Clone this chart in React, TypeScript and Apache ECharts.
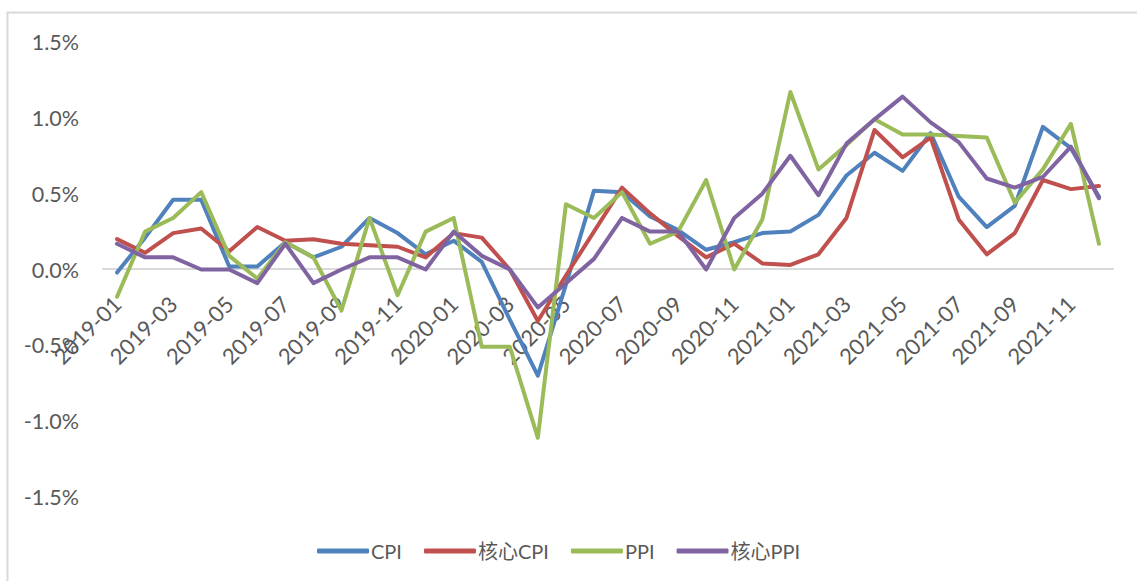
import React, { useEffect, useRef } from "react";
import * as echarts from "echarts";

const months: string[] = [
  "2019-01","2019-02","2019-03","2019-04","2019-05","2019-06","2019-07","2019-08","2019-09","2019-10","2019-11","2019-12",
  "2020-01","2020-02","2020-03","2020-04","2020-05","2020-06","2020-07","2020-08","2020-09","2020-10","2020-11","2020-12",
  "2021-01","2021-02","2021-03","2021-04","2021-05","2021-06","2021-07","2021-08","2021-09","2021-10","2021-11","2021-12",
];

const cpi: number[] = [
  -0.02, 0.21, 0.46, 0.46, 0.02, 0.02, 0.18, 0.08, 0.15, 0.34, 0.24, 0.10,
  0.19, 0.05, -0.33, -0.70, -0.10, 0.52, 0.51, 0.35, 0.26, 0.13, 0.18, 0.24,
  0.25, 0.36, 0.62, 0.77, 0.65, 0.90, 0.48, 0.28, 0.42, 0.94, 0.80, 0.48,
];

const coreCpi: number[] = [
  0.20, 0.11, 0.24, 0.27, 0.12, 0.28, 0.19, 0.20, 0.17, 0.16, 0.15, 0.08,
  0.24, 0.21, 0.00, -0.34, -0.04, 0.25, 0.54, 0.37, 0.22, 0.08, 0.17, 0.04,
  0.03, 0.10, 0.34, 0.92, 0.74, 0.87, 0.33, 0.10, 0.24, 0.59, 0.53, 0.55,
];

const ppi: number[] = [
  -0.18, 0.25, 0.34, 0.51, 0.09, -0.06, 0.18, 0.08, -0.27, 0.34, -0.17, 0.25,
  0.34, -0.51, -0.51, -1.11, 0.43, 0.34, 0.51, 0.17, 0.25, 0.59, 0.00, 0.33,
  1.17, 0.66, 0.82, 0.99, 0.89, 0.89, 0.88, 0.87, 0.44, 0.66, 0.96, 0.17,
];

const corePpi: number[] = [
  0.17, 0.08, 0.08, 0.00, 0.00, -0.09, 0.17, -0.09, 0.00, 0.08, 0.08, 0.00,
  0.25, 0.09, 0.00, -0.25, -0.09, 0.07, 0.34, 0.25, 0.25, 0.00, 0.34, 0.50,
  0.75, 0.49, 0.83, 0.99, 1.14, 0.97, 0.84, 0.60, 0.54, 0.61, 0.81, 0.47,
];

const seriesNames: string[] = ["CPI", "核心CPI", "PPI", "核心PPI"];
const seriesColors: string[] = ["#4F81BD", "#C0504D", "#9BBB59", "#8064A2"];

const FONT = "Lato, 'Noto Sans CJK SC', sans-serif";
const TEXT_COLOR = "#595959";

export default function App() {
  const ref = useRef<HTMLDivElement>(null);

  useEffect(() => {
    if (!ref.current) return;
    const chart = echarts.init(ref.current, undefined, { renderer: "svg" });
    const datasets = [cpi, coreCpi, ppi, corePpi];
    chart.setOption({
      animation: false,
      backgroundColor: "#ffffff",
      textStyle: { fontFamily: FONT },
      grid: { left: 103, right: 24, top: 42, bottom: 84, containLabel: false },
      graphic: [
        {
          type: "rect",
          shape: { x: 7.5, y: 12.5, width: 1300, height: 800 },
          style: { fill: "none", stroke: "#d9d9d9", lineWidth: 2 },
          silent: true,
          z: -10,
        },
      ],
      legend: {
        left: 312,
        top: 536,
        itemWidth: 52,
        itemHeight: 5,
        itemGap: 22,
        icon: "roundRect",
        textStyle: { fontFamily: FONT, fontSize: 20, color: TEXT_COLOR, padding: [0, 0, 0, -3] },
        data: seriesNames,
      },
      xAxis: {
        type: "category",
        data: months,
        boundaryGap: true,
        offset: -228,
        axisLine: { onZero: false, lineStyle: { color: "#d9d9d9", width: 2 } },
        axisTick: { show: false },
        axisLabel: {
          interval: 1,
          rotate: 45,
          margin: 31,
          fontSize: 22,
          fontFamily: FONT,
          color: TEXT_COLOR,
        },
        splitLine: { show: false },
      },
      yAxis: {
        type: "value",
        min: -1.5,
        max: 1.5,
        interval: 0.5,
        axisLine: { show: false },
        axisTick: { show: false },
        splitLine: { show: false },
        axisLabel: {
          margin: 24,
          fontSize: 21.5,
          fontFamily: FONT,
          color: TEXT_COLOR,
          formatter: (v: number) => `${v.toFixed(1)}%`,
        },
      },
      series: datasets.map((d, i) => ({
        name: seriesNames[i],
        type: "line",
        data: d,
        symbol: "none",
        showSymbol: false,
        smooth: false,
        color: seriesColors[i],
        lineStyle: { width: 4, color: seriesColors[i], cap: "round", join: "round" },
        z: 2 + i,
      })),
    });
    return () => chart.dispose();
  }, []);

  return (
    <div
      ref={ref}
      style={{ position: "fixed", left: 0, top: 0, width: 1137, height: 581 }}
    />
  );
}
